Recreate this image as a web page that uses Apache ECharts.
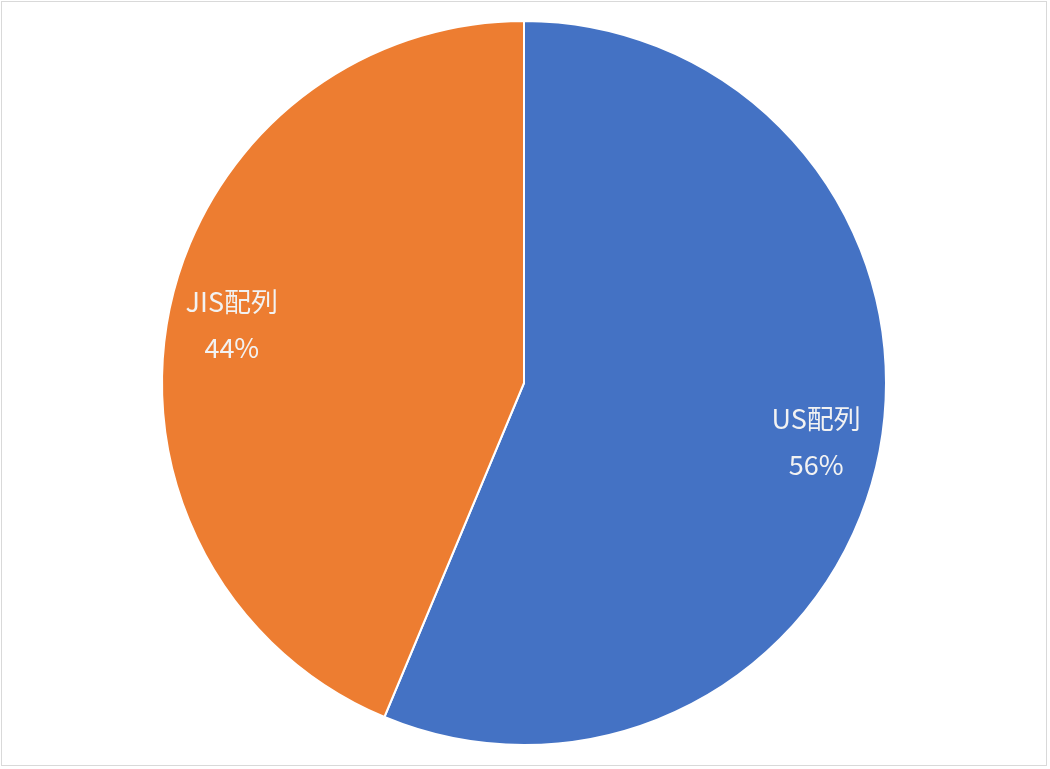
<!DOCTYPE html>
<html>
<head>
<meta charset="utf-8">
<script src="https://cdn.jsdelivr.net/npm/echarts@6/dist/echarts.min.js"></script>
<style>
html,body{margin:0;padding:0;background:#fff;}
#frame{position:absolute;left:1px;top:1px;width:1044px;height:763px;border:1px solid #d9d9d9;}
#chart{position:absolute;left:0;top:0;width:1050px;height:769px;}
</style>
</head>
<body>
<div id="frame"></div>
<div id="chart"></div>
<script>
const categories = ['US配列', 'JIS配列'];
const values = [56.3, 43.7];
const colors = ['#4472C4', '#ED7D31'];

const data = categories.map((c, i) => ({ name: c, value: values[i], itemStyle: { color: colors[i] } }));

const chart = echarts.init(document.getElementById('chart'), null, { renderer: 'canvas' });
chart.setOption({
  animation: false,
  series: [
    {
      type: 'pie',
      center: [524, 383],
      radius: [0, 362],
      startAngle: 90,
      clockwise: true,
      data: data,
      label: { show: false },
      labelLine: { show: false },
      itemStyle: { borderColor: '#ffffff', borderWidth: 2 },
      emphasis: { disabled: true }
    },
    {
      type: 'pie',
      center: [524, 383],
      radius: [228, 362],
      startAngle: 90,
      clockwise: true,
      silent: true,
      data: categories.map((c, i) => ({ name: c, value: values[i] })),
      itemStyle: { color: 'rgba(0,0,0,0)' },
      label: {
        show: true,
        position: 'inside',
        formatter: p => p.name + '\n' + Math.round(p.percent) + '%',
        color: '#f2f2f2',
        fontSize: 27,
        lineHeight: 46,
        fontFamily: '"Noto Sans CJK JP", "Noto Sans", sans-serif',
        textBorderWidth: 0
      },
      labelLine: { show: false },
      emphasis: { disabled: true }
    }
  ]
});
</script>
</body>
</html>
